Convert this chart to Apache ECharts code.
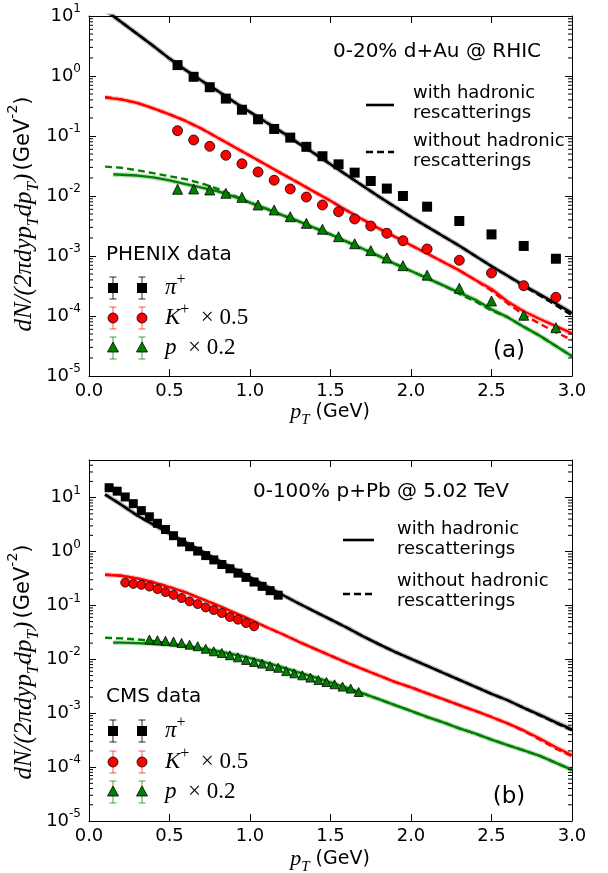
<!DOCTYPE html>
<html><head><meta charset="utf-8">
<script src="https://cdn.jsdelivr.net/npm/echarts@6/dist/echarts.min.js"></script>
<style>html,body{margin:0;padding:0;background:#fff}#c{width:608px;height:873px}</style>
</head><body><div id="c"></div><script>
// ---------------- data ----------------
const xTicks = [0, 0.5, 1.0, 1.5, 2.0, 2.5, 3.0];
const modelX = [0.1,0.2,0.3,0.4,0.5,0.6,0.7,0.8,0.9,1.0,1.1,1.2,1.3,1.4,1.5,1.6,1.7,1.8,1.9,2.0,2.1,2.2,2.3,2.4,2.5,2.6,2.7,2.8,2.9,3.0];
const modelX15 = [0.15,0.2,0.3,0.4,0.5,0.6,0.7,0.8,0.9,1.0,1.1,1.2,1.3,1.4,1.5,1.6,1.7,1.8,1.9,2.0,2.1,2.2,2.3,2.4,2.5,2.6,2.7,2.8,2.9,3.0];

// (a) PHENIX d+Au
const phenixX = [0.55,0.65,0.75,0.85,0.95,1.05,1.15,1.25,1.35,1.45,1.55,1.65,1.75,1.85,1.95,2.1,2.3,2.5,2.7,2.9];
const phenixPi = [1.52,0.97,0.65,0.42,0.274,0.19,0.131,0.094,0.066,0.046,0.0337,0.0245,0.0178,0.0133,0.0100,0.00664,0.00383,0.00229,0.00147,0.00090];
const phenixK  = [0.1226,0.0858,0.0673,0.0477,0.0345,0.0251,0.0183,0.0131,0.0096,0.00708,0.00547,0.00414,0.00316,0.00239,0.00180,0.00131,0.000848,0.000521,0.00032,0.000205];
const phenixP  = [0.01294,0.0131,0.0126,0.0111,0.0095,0.00708,0.00585,0.00452,0.0035,0.00279,0.0021,0.0016,0.00123,0.000926,0.00069,0.00048,0.00029,0.000178,0.000103,0.0000638];

const aPiWith    = [12.6,7.94,5.01,3.16,1.95,1.26,0.832,0.562,0.372,0.251,0.170,0.115,0.0759,0.0513,0.0339,0.0224,0.0148,0.00977,0.00661,0.00447,0.00309,0.00214,0.00148,0.00100,6.76e-4,4.68e-4,3.24e-4,2.29e-4,1.62e-4,1.12e-4];
const aPiWithout = [12.6,7.94,5.01,3.16,1.95,1.26,0.832,0.562,0.372,0.251,0.170,0.115,0.0759,0.0513,0.0339,0.0224,0.0148,0.00977,0.00661,0.00447,0.00309,0.00214,0.00148,0.00100,6.76e-4,4.68e-4,3.16e-4,2.19e-4,1.51e-4,1.02e-4];
const aKWith     = [0.437,0.407,0.355,0.288,0.229,0.178,0.132,0.0933,0.0661,0.0468,0.0331,0.0234,0.0166,0.0117,0.00832,0.00575,0.00407,0.00288,0.00209,0.00151,0.00110,7.94e-4,5.75e-4,3.98e-4,2.82e-4,1.74e-4,1.20e-4,8.91e-5,6.76e-5,5.13e-5];
const aKWithout  = [0.447,0.407,0.355,0.288,0.229,0.178,0.132,0.0933,0.0661,0.0468,0.0331,0.0234,0.0166,0.0117,0.00832,0.00575,0.00407,0.00288,0.00209,0.00151,0.00110,7.94e-4,5.75e-4,3.98e-4,2.63e-4,1.62e-4,1.05e-4,7.41e-5,5.37e-5,3.98e-5];
const aPWith     = [0.0229,0.0226,0.0219,0.0204,0.0182,0.0158,0.0138,0.0120,0.00977,0.00776,0.00617,0.00479,0.00380,0.00295,0.00229,0.00174,0.00132,0.00100,7.41e-4,5.62e-4,4.27e-4,3.24e-4,2.45e-4,1.86e-4,1.29e-4,9.55e-5,6.61e-5,4.68e-5,3.16e-5,2.14e-5];
const aPWithout  = [0.0309,0.0295,0.0269,0.0240,0.0214,0.0191,0.0162,0.0132,0.0102,0.00776,0.00617,0.00479,0.00380,0.00295,0.00229,0.00174,0.00132,0.00100,7.41e-4,5.62e-4,4.27e-4,3.24e-4,2.34e-4,1.74e-4,1.23e-4,9.55e-5,6.61e-5,4.68e-5,3.16e-5,2.14e-5];

// (b) CMS p+Pb
const cmsPiX = [0.125,0.175,0.225,0.275,0.325,0.375,0.425,0.475,0.525,0.575,0.625,0.675,0.725,0.775,0.825,0.875,0.925,0.975,1.025,1.075,1.125,1.175];
const cmsPi  = [15.3,13.2,10.3,7.74,5.75,4.42,3.35,2.57,1.97,1.50,1.23,1.02,0.841,0.700,0.575,0.479,0.398,0.331,0.272,0.226,0.188,0.155];
const cmsKX  = [0.225,0.275,0.325,0.375,0.425,0.475,0.525,0.575,0.625,0.675,0.725,0.775,0.825,0.875,0.925,0.975,1.025];
const cmsK   = [0.265,0.251,0.241,0.224,0.201,0.177,0.157,0.137,0.119,0.106,0.0919,0.0823,0.0724,0.0611,0.0545,0.0473,0.0410];
const cmsPX  = [0.375,0.425,0.475,0.525,0.575,0.625,0.675,0.725,0.775,0.825,0.875,0.925,0.975,1.025,1.075,1.125,1.175,1.225,1.275,1.325,1.375,1.425,1.475,1.525,1.575,1.625,1.675];
const cmsP   = [0.0233,0.0226,0.0221,0.0214,0.0202,0.0187,0.0175,0.0157,0.0141,0.0131,0.0119,0.0109,0.00975,0.00895,0.00833,0.0075,0.00697,0.00605,0.0055,0.00505,0.00458,0.00413,0.00379,0.00344,0.00312,0.00287,0.00248];

const bPiWith    = [11.5,7.41,4.68,3.16,2.16,1.48,1.01,0.692,0.479,0.331,0.229,0.158,0.110,0.0776,0.0550,0.0389,0.0269,0.0191,0.0138,0.0102,0.00759,0.00562,0.00417,0.00309,0.00229,0.00174,0.00126,9.33e-4,6.76e-4,5.01e-4];
const bPiWithout = [11.5,7.41,4.68,3.16,2.16,1.48,1.01,0.692,0.479,0.331,0.229,0.158,0.110,0.0776,0.0550,0.0389,0.0269,0.0191,0.0138,0.0102,0.00759,0.00562,0.00417,0.00309,0.00229,0.00174,0.00126,9.12e-4,6.61e-4,4.79e-4];
const bKWith     = [0.372,0.355,0.316,0.269,0.219,0.174,0.132,0.100,0.0741,0.0550,0.0398,0.0295,0.0214,0.0158,0.0117,0.00871,0.00661,0.00501,0.00380,0.00302,0.00234,0.00182,0.00141,0.00110,8.51e-4,6.46e-4,4.79e-4,3.39e-4,2.34e-4,1.66e-4];
const bKWithout  = [0.372,0.355,0.316,0.269,0.219,0.174,0.132,0.100,0.0741,0.0550,0.0398,0.0295,0.0214,0.0158,0.0117,0.00871,0.00661,0.00501,0.00380,0.00302,0.00234,0.00182,0.00141,0.00110,8.51e-4,6.46e-4,4.68e-4,3.24e-4,2.19e-4,1.58e-4];
const bPWith     = [0.0204,0.0204,0.0200,0.0195,0.0186,0.0174,0.0158,0.0141,0.0123,0.0105,0.00871,0.00708,0.00575,0.00468,0.00372,0.00295,0.00234,0.00182,0.00141,0.00110,8.51e-4,6.76e-4,5.25e-4,4.17e-4,3.24e-4,2.57e-4,2.04e-4,1.62e-4,1.20e-4,8.91e-5];
const bPWithout  = [0.0251,0.0245,0.0234,0.0219,0.0200,0.0178,0.0158,0.0141,0.0123,0.0105,0.00871,0.00708,0.00575,0.00468,0.00372,0.00295,0.00234,0.00182,0.00141,0.00110,8.51e-4,6.76e-4,5.25e-4,4.17e-4,3.24e-4,2.57e-4,2.04e-4,1.62e-4,1.20e-4,8.91e-5];

// -------------- chart ----------------
const SANS = 'DejaVu Sans';
const SERIF = 'Liberation Serif';
const BLACK = '#000000', RED = '#ff0000', GREEN = '#008000';
const G = [
  {left: 89, top: 16, width: 483, height: 360},
  {left: 89, top: 460, width: 483, height: 361}
];
const yRange = [[1e-5, 10], [1e-5, 50]];

const chart = echarts.init(document.getElementById('c'), null, {renderer: 'canvas'});
const pairs = (xs, ys) => xs.map((x, i) => [x, ys[i]]);

function logLabel(v) {
  const l = Math.log10(v); const e = Math.round(l);
  if (Math.abs(l - e) > 1e-6) return '';
  return '{b|10}{s|' + e + '}';
}
const tickRich = {
  b: {fontFamily: SANS, fontSize: 18, color: '#000', lineHeight: 26, verticalAlign: 'middle'},
  s: {fontFamily: SANS, fontSize: 12, color: '#000', verticalAlign: 'top'}
};

const xAxes = [], yAxes = [];
G.forEach((g, gi) => {
  const common = {gridIndex: gi, type: 'value', min: 0, max: 3, interval: 0.5, splitLine: {show: false},
    axisLine: {show: true, onZero: false, lineStyle: {color: '#000', width: 1}},
    axisTick: {show: true, inside: true, length: 7, lineStyle: {color: '#000'}}};
  xAxes.push(Object.assign({}, common, {position: 'bottom',
    axisLabel: {show: true, margin: 6, fontFamily: SANS, fontSize: 18, color: '#000', formatter: v => v.toFixed(1)}}));
  xAxes.push(Object.assign({}, common, {position: 'top', axisLabel: {show: false}}));
  const yc = {gridIndex: gi, type: 'log', logBase: 10, min: yRange[gi][0], max: yRange[gi][1], splitLine: {show: false},
    axisLine: {show: true, onZero: false, lineStyle: {color: '#000', width: 1}},
    axisTick: {show: true, inside: true, length: 7, lineStyle: {color: '#000'}}};
  yAxes.push(Object.assign({}, yc, {position: 'left',
    axisLabel: {show: true, margin: 8, formatter: logLabel, rich: tickRich}}));
  yAxes.push(Object.assign({}, yc, {position: 'right', axisLabel: {show: false}}));
});

function minorVals(lo, hi) {
  const out = [];
  for (let d = lo; d <= hi; d++) for (let k = 2; k <= 9; k++) out.push(k * Math.pow(10, d));
  return out;
}
function minorSeries(gi, vals, ymax) {
  return {type: 'custom', xAxisIndex: gi * 2, yAxisIndex: gi * 2, silent: true, z: 6, clip: false,
    data: vals.filter(v => v < ymax).map(v => [0, v]),
    renderItem: (params, api) => {
      const p = api.coord([0, api.value(1)]);
      const cs = params.coordSys;
      return {type: 'group', children: [
        {type: 'line', shape: {x1: cs.x, y1: p[1], x2: cs.x + 4, y2: p[1]}, style: {stroke: '#000', lineWidth: 1}},
        {type: 'line', shape: {x1: cs.x + cs.width, y1: p[1], x2: cs.x + cs.width - 4, y2: p[1]}, style: {stroke: '#000', lineWidth: 1}}
      ]};
    }};
}

function lineSeries(gi, xs, ys, color, dashed) {
  return {type: 'line', xAxisIndex: gi * 2, yAxisIndex: gi * 2, data: pairs(xs, ys), showSymbol: false, symbol: 'none',
    smooth: false, z: 3, silent: true,
    lineStyle: {color: color, width: 2.4, type: dashed ? [7, 4] : 'solid'}};
}
function bandSeries(gi, xs, ys, color) {
  return {type: 'line', xAxisIndex: gi * 2, yAxisIndex: gi * 2, data: pairs(xs, ys), showSymbol: false, symbol: 'none',
    z: 2, silent: true, lineStyle: {color: color, width: 5, opacity: 0.25}};
}
function scatterSeries(gi, xs, ys, symbol, size, color) {
  return {type: 'scatter', xAxisIndex: gi * 2, yAxisIndex: gi * 2, data: pairs(xs, ys), symbol: symbol, symbolSize: size,
    z: 4, silent: true, itemStyle: {color: color, borderColor: '#000', borderWidth: symbol === 'rect' ? 0 : 0.8, opacity: 1}};
}

const series = [
  minorSeries(0, minorVals(-5, 0), 10),
  minorSeries(1, minorVals(-5, 1), 50),
  bandSeries(0, modelX, aPiWith, BLACK),
  bandSeries(0, modelX, aKWith, RED),
  bandSeries(0, modelX15, aPWith, GREEN),
  lineSeries(0, modelX, aPiWithout, BLACK, true),
  lineSeries(0, modelX, aKWithout, RED, true),
  lineSeries(0, modelX, aPWithout, GREEN, true),
  lineSeries(0, modelX, aPiWith, BLACK, false),
  lineSeries(0, modelX, aKWith, RED, false),
  lineSeries(0, modelX15, aPWith, GREEN, false),
  scatterSeries(0, phenixX, phenixPi, 'rect', 10, BLACK),
  scatterSeries(0, phenixX, phenixK, 'circle', 10, RED),
  scatterSeries(0, phenixX, phenixP, 'triangle', 10, GREEN),
  bandSeries(1, modelX, bPiWith, BLACK),
  bandSeries(1, modelX, bKWith, RED),
  bandSeries(1, modelX15, bPWith, GREEN),
  lineSeries(1, modelX, bPiWithout, BLACK, true),
  lineSeries(1, modelX, bKWithout, RED, true),
  lineSeries(1, modelX, bPWithout, GREEN, true),
  lineSeries(1, modelX, bPiWith, BLACK, false),
  lineSeries(1, modelX, bKWith, RED, false),
  lineSeries(1, modelX15, bPWith, GREEN, false),
  scatterSeries(1, cmsPiX, cmsPi, 'rect', 9, BLACK),
  scatterSeries(1, cmsKX, cmsK, 'circle', 9, RED),
  scatterSeries(1, cmsPX, cmsP, 'triangle', 9, GREEN)
];

// ----- decorations (legends, annotations, axis titles) -----
function mathRich(ms, ns) {
  const lh = Math.round(ms * 1.45);
  return {
    i: {fontFamily: SERIF, fontStyle: 'italic', fontSize: ms, fill: '#000', lineHeight: lh, verticalAlign: 'middle'},
    r: {fontFamily: SERIF, fontSize: ms, fill: '#000', lineHeight: lh, verticalAlign: 'middle'},
    sub: {fontFamily: SERIF, fontStyle: 'italic', fontSize: Math.round(ms * 0.68), fill: '#000', verticalAlign: 'bottom'},
    sup: {fontFamily: SERIF, fontSize: Math.round(ms * 0.68), fill: '#000', verticalAlign: 'top'},
    n: {fontFamily: SANS, fontSize: ns, fill: '#000', lineHeight: lh, verticalAlign: 'middle'},
    ns: {fontFamily: SANS, fontSize: Math.round(ns * 0.68), fill: '#000', verticalAlign: 'top'}
  };
}
function txt(x, y, text, opts) {
  return {type: 'text', x: x, y: y, silent: true, z: 10,
    style: Object.assign({text: text, fontFamily: SANS, fontSize: 18, fill: '#000', textAlign: 'left', textVerticalAlign: 'middle'}, opts || {})};
}
function sampleLine(x1, x2, y, dashed) {
  return {type: 'line', silent: true, z: 10, shape: {x1: x1, y1: y, x2: x2, y2: y},
    style: {stroke: '#000', lineWidth: 2.6, lineDash: dashed ? [7, 4] : null}};
}
function errMarker(x, y, kind, color, barColor) {
  const ch = [
    {type: 'line', shape: {x1: x, y1: y - 11, x2: x, y2: y + 11}, style: {stroke: barColor, lineWidth: 1.2}},
    {type: 'line', shape: {x1: x - 3.5, y1: y - 11, x2: x + 3.5, y2: y - 11}, style: {stroke: barColor, lineWidth: 1.2}},
    {type: 'line', shape: {x1: x - 3.5, y1: y + 11, x2: x + 3.5, y2: y + 11}, style: {stroke: barColor, lineWidth: 1.2}}
  ];
  if (kind === 'rect') ch.push({type: 'rect', shape: {x: x - 5, y: y - 5, width: 10, height: 10}, style: {fill: color}});
  if (kind === 'circle') ch.push({type: 'circle', shape: {cx: x, cy: y, r: 5}, style: {fill: color, stroke: '#000', lineWidth: 0.8}});
  if (kind === 'triangle') ch.push({type: 'polygon', shape: {points: [[x, y - 6], [x + 5.5, y + 4], [x - 5.5, y + 4]]}, style: {fill: color, stroke: '#000', lineWidth: 0.8}});
  return {type: 'group', silent: true, z: 10, children: ch};
}
function dataLegend(title, yTitle, ys) {
  const out = [txt(106, yTitle, title, {fontSize: 20})];
  const kinds = [['rect', BLACK, 'rgba(0,0,0,0.7)'], ['circle', RED, 'rgba(255,0,0,0.55)'], ['triangle', GREEN, 'rgba(0,128,0,0.6)']];
  const labels = ['{i|π}{sup|+}', '{i|K}{sup|+}{r|  × 0.5}', '{i|p}{r|  × 0.2}'];
  ys.forEach((y, i) => {
    out.push(errMarker(113, y, kinds[i][0], kinds[i][1], kinds[i][2]));
    out.push(errMarker(142, y, kinds[i][0], kinds[i][1], kinds[i][2]));
    out.push(txt(165, y, labels[i], {rich: mathRich(23, 20)}));
  });
  return out;
}
const yTitle = '{i|dN/(2πdyp}{sub|T}{i|dp}{sub|T}{i|)} {n|(GeV}{ns|-2}{n|)}';
const xTitle = '{i|p}{sub|T}{n| (GeV)}';

const graphic = [].concat(
  [txt(437, 52, '0-20% d+Au @ RHIC', {fontSize: 20, textAlign: 'center'}),
   sampleLine(366, 394, 105, false), sampleLine(366, 394, 152, true),
   txt(413, 103, 'with hadronic\nrescatterings', {lineHeight: 20}),
   txt(413, 151, 'without hadronic\nrescatterings', {lineHeight: 20}),
   txt(509, 351, '(a)', {fontSize: 23, textAlign: 'center'}),
   txt(330, 412, xTitle, {rich: mathRich(22, 19), textAlign: 'center'}),
   {type: 'text', x: 24, y: 214, rotation: Math.PI / 2, silent: true, z: 10,
    style: {text: yTitle, rich: mathRich(25, 21), textAlign: 'center', textVerticalAlign: 'middle'}}],
  dataLegend('PHENIX data', 255, [288, 318, 348]),
  [txt(381, 492, '0-100% p+Pb @ 5.02 TeV', {fontSize: 20, textAlign: 'center'}),
   sampleLine(343, 374, 540, false), sampleLine(343, 374, 594, true),
   txt(397, 539, 'with hadronic\nrescatterings', {lineHeight: 20}),
   txt(397, 591, 'without hadronic\nrescatterings', {lineHeight: 20}),
   txt(509, 797, '(b)', {fontSize: 23, textAlign: 'center'}),
   txt(330, 859, xTitle, {rich: mathRich(22, 19), textAlign: 'center'}),
   {type: 'text', x: 24, y: 662, rotation: Math.PI / 2, silent: true, z: 10,
    style: {text: yTitle, rich: mathRich(25, 21), textAlign: 'center', textVerticalAlign: 'middle'}}],
  dataLegend('CMS data', 697, [731, 762, 792])
);

chart.setOption({
  animation: false,
  backgroundColor: '#ffffff',
  grid: G.map(g => Object.assign({containLabel: false}, g)),
  xAxis: xAxes,
  yAxis: yAxes,
  series: series,
  graphic: graphic
});
</script></body></html>
